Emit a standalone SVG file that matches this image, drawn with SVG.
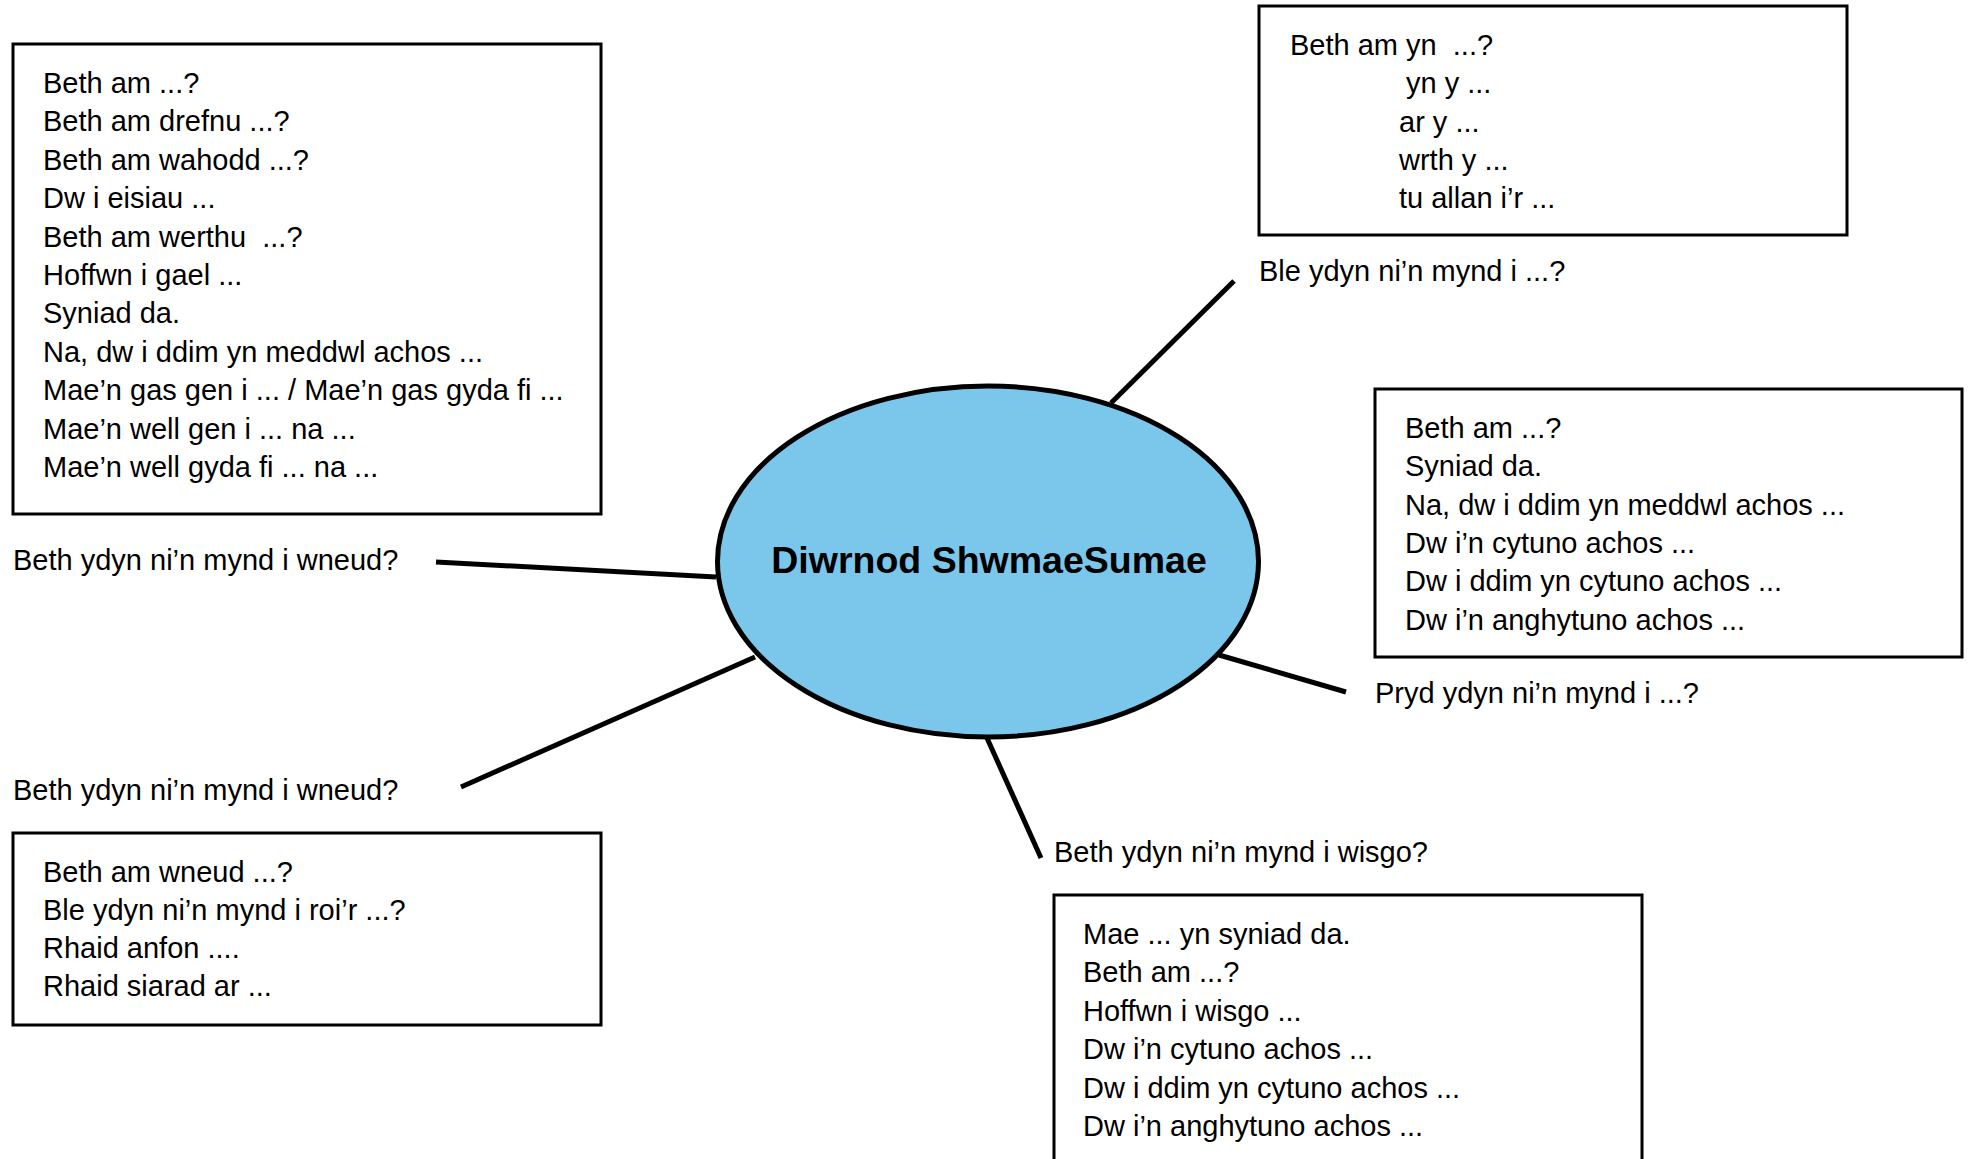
<svg xmlns="http://www.w3.org/2000/svg" width="1969" height="1159" viewBox="0 0 1969 1159">
  <style>
    .box { fill: #ffffff; stroke: #000000; stroke-width: 3; }
    .t { font-family: "Liberation Sans", Arial, sans-serif; font-size: 29px; fill: #000000; }
    .title { font-family: "Liberation Sans", Arial, sans-serif; font-size: 37.5px; font-weight: bold; fill: #000000; }
    .conn { stroke: #000000; stroke-width: 5; fill: none; }
  </style>
  <rect width="1969" height="1159" fill="#ffffff"/>

  <g id="connectors">
    <line class="conn" x1="1111" y1="403" x2="1234" y2="281"/>
    <line class="conn" x1="436" y1="562" x2="716" y2="577"/>
    <line class="conn" x1="461" y1="787" x2="755" y2="657"/>
    <line class="conn" x1="1219" y1="655" x2="1346" y2="692"/>
    <line class="conn" x1="987" y1="738" x2="1041" y2="858"/>
  </g>

  <g id="center">
    <ellipse cx="988" cy="561.5" rx="270.5" ry="175.5" fill="#7BC7EC" stroke="#000000" stroke-width="5"/>
    <text class="title" x="989" y="573" text-anchor="middle">Diwrnod ShwmaeSumae</text>
  </g>

  <g id="box-top-left">
    <rect class="box" x="13" y="44" width="588" height="470"/>
    <text class="t" x="43" y="93">Beth am ...?</text>
    <text class="t" x="43" y="131.4">Beth am drefnu ...?</text>
    <text class="t" x="43" y="169.8">Beth am wahodd ...?</text>
    <text class="t" x="43" y="208.2">Dw i eisiau ...</text>
    <text class="t" x="43" y="246.6" xml:space="preserve">Beth am werthu  ...?</text>
    <text class="t" x="43" y="285">Hoffwn i gael ...</text>
    <text class="t" x="43" y="323.4">Syniad da.</text>
    <text class="t" x="43" y="361.8">Na, dw i ddim yn meddwl achos ...</text>
    <text class="t" x="43" y="400.2">Mae’n gas gen i ... / Mae’n gas gyda fi ...</text>
    <text class="t" x="43" y="438.6">Mae’n well gen i ... na ...</text>
    <text class="t" x="43" y="477">Mae’n well gyda fi ... na ...</text>
  </g>

  <g id="label-wneud-1">
    <text class="t" x="13" y="570">Beth ydyn ni’n mynd i wneud?</text>
  </g>

  <g id="label-wneud-2">
    <text class="t" x="13" y="800">Beth ydyn ni’n mynd i wneud?</text>
  </g>

  <g id="box-bottom-left">
    <rect class="box" x="13" y="833" width="588" height="192"/>
    <text class="t" x="43" y="882">Beth am wneud ...?</text>
    <text class="t" x="43" y="920">Ble ydyn ni’n mynd i roi’r ...?</text>
    <text class="t" x="43" y="958">Rhaid anfon ....</text>
    <text class="t" x="43" y="996">Rhaid siarad ar ...</text>
  </g>

  <g id="box-top-right">
    <rect class="box" x="1259" y="6" width="588" height="229"/>
    <text class="t" x="1290" y="55" xml:space="preserve">Beth am yn  ...?</text>
    <text class="t" x="1406" y="93">yn y ...</text>
    <text class="t" x="1399" y="132">ar y ...</text>
    <text class="t" x="1399" y="170">wrth y ...</text>
    <text class="t" x="1399" y="208">tu allan i’r ...</text>
  </g>

  <g id="label-ble">
    <text class="t" x="1259" y="281">Ble ydyn ni’n mynd i ...?</text>
  </g>

  <g id="box-right">
    <rect class="box" x="1375" y="389" width="587" height="268"/>
    <text class="t" x="1405" y="438">Beth am ...?</text>
    <text class="t" x="1405" y="476">Syniad da.</text>
    <text class="t" x="1405" y="515">Na, dw i ddim yn meddwl achos ...</text>
    <text class="t" x="1405" y="553">Dw i’n cytuno achos ...</text>
    <text class="t" x="1405" y="591">Dw i ddim yn cytuno achos ...</text>
    <text class="t" x="1405" y="630">Dw i’n anghytuno achos ...</text>
  </g>

  <g id="label-pryd">
    <text class="t" x="1375" y="703">Pryd ydyn ni’n mynd i ...?</text>
  </g>

  <g id="label-wisgo">
    <text class="t" x="1054" y="862">Beth ydyn ni’n mynd i wisgo?</text>
  </g>

  <g id="box-bottom-right">
    <rect class="box" x="1054" y="895" width="588" height="280"/>
    <text class="t" x="1083" y="944">Mae ... yn syniad da.</text>
    <text class="t" x="1083" y="982">Beth am ...?</text>
    <text class="t" x="1083" y="1021">Hoffwn i wisgo ...</text>
    <text class="t" x="1083" y="1059">Dw i’n cytuno achos ...</text>
    <text class="t" x="1083" y="1098">Dw i ddim yn cytuno achos ...</text>
    <text class="t" x="1083" y="1136">Dw i’n anghytuno achos ...</text>
  </g>
</svg>
